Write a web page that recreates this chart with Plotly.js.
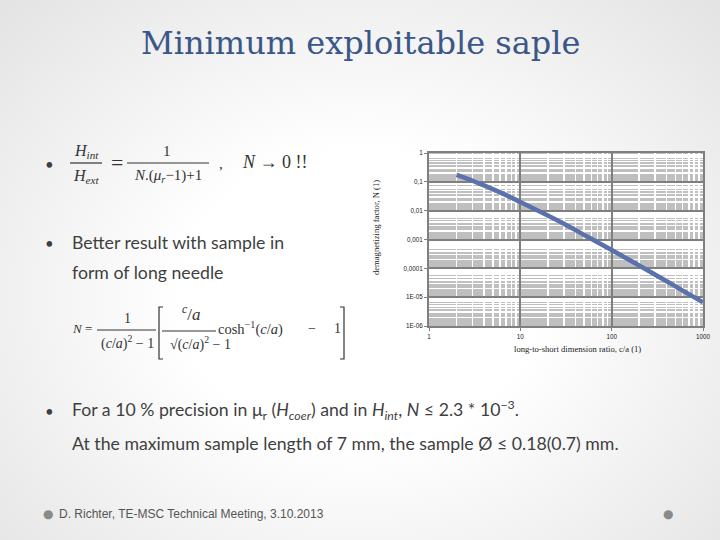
<!DOCTYPE html>
<html><head><meta charset="utf-8">
<script src="https://cdn.plot.ly/plotly-3.0.1.min.js"></script>
<style>
html,body{margin:0;padding:0;width:720px;height:540px;overflow:hidden;
background:radial-gradient(ellipse at 50% 55%, #ffffff 35%, #e3e3e3 100%);}
#chart{width:720px;height:540px;}
</style>
</head><body><div id="chart"></div>
<script>
// ---- data ----
const ratio = [2, 3, 4, 5, 7, 10, 20, 30, 50, 70, 100, 200, 300, 500, 700, 1000];
const demagFactor = [0.174, 0.109, 0.075, 0.056, 0.0345, 0.0200, 0.0068, 0.0035, 0.00144, 0.0008, 0.00043, 0.000125, 0.00006, 0.0000236, 0.0000127, 0.0000066];
const yTickVals = [1, 0.1, 0.01, 0.001, 0.0001, 0.00001, 0.000001];
const yTickText = ["1", "0,1", "0,01", "0,001", "0,0001", "1E-05", "1E-06"];
const xTickVals = [1, 10, 100, 1000];
const xTickText = ["1", "10", "100", "1000"];
const slideTitle = "Minimum exploitable saple";
const yTitle = "demagnetizing factor, N (1)";
const xTitle = "long-to-short dimension ratio, c/a (1)";
const footer = "D. Richter, TE-MSC Technical Meeting, 3.10.2013";

// ---- helpers (pixel -> paper) ----
const W = 720, H = 540;
const px = x => x / W;
const py = y => 1 - y / H;

const SANS = "Lato, 'DejaVu Sans', sans-serif";
const SERIF = "'Liberation Serif', 'DejaVu Serif', serif";
const TXT = "#3f3f3f";

function ann(text, x, y, opts) {
  return Object.assign({
    text: text, x: px(x), y: py(y), xref: 'paper', yref: 'paper',
    showarrow: false, xanchor: 'left', yanchor: 'middle',
    font: {family: SANS, size: 17.7, color: TXT}
  }, opts || {});
}
function hline(x0, x1, y, w) {
  return {type: 'line', xref: 'paper', yref: 'paper', x0: px(x0), x1: px(x1), y0: py(y), y1: py(y),
          line: {color: '#333', width: w || 1.2}};
}
function bracket(x, y0, y1, dir) {
  const t = 4 * dir;
  return {type: 'path', xref: 'paper', yref: 'paper',
    path: `M ${px(x + t)} ${py(y0)} L ${px(x)} ${py(y0)} L ${px(x)} ${py(y1)} L ${px(x + t)} ${py(y1)}`,
    line: {color: '#333', width: 1.2}};
}

const trace = {
  x: ratio, y: demagFactor, type: 'scatter', mode: 'lines',
  line: {color: '#5a71ab', width: 4.5, shape: 'spline'},
  hoverinfo: 'skip'
};

const tickFont = {family: "'Liberation Sans', Arial, sans-serif", size: 6.3, color: '#1a1a1a'};
const mathI = {family: SERIF, size: 16, color: '#333'};
const m14 = {family: SERIF, size: 14, color: '#333'};
const dotFont = {family: "'DejaVu Sans', sans-serif", size: 12, color: '#8a8a8a'};

const annotations = [
  ann(slideTitle, 360, 43, {xanchor: 'center', font: {family: "'DejaVu Serif', serif", size: 32, color: '#3a5787'}}),
  // bullet 1
  ann('•', 43, 164, {font: {family: SANS, size: 15, color: TXT}}),
  ann('<i>H<sub>int</sub></i>', 86, 151, {xanchor: 'center', font: mathI}),
  ann('<i>H<sub>ext</sub></i>', 86, 176, {xanchor: 'center', font: mathI}),
  ann('=', 117, 163, {xanchor: 'center', font: {family: SERIF, size: 22, color: '#333'}}),
  ann('1', 167, 151, {xanchor: 'center', font: {family: SERIF, size: 15, color: '#333'}}),
  ann('<i>N</i>.(<i>μ<sub>r</sub></i>−1)+1', 168, 176, {xanchor: 'center', font: {family: SERIF, size: 15, color: '#333'}}),
  ann(',', 221, 164, {xanchor: 'center', font: {family: SERIF, size: 15, color: '#333'}}),
  ann('<i>N</i> → 0 !!', 240, 162, {font: {family: SERIF, size: 18, color: '#333'}}),
  // bullet 2
  ann('•', 43, 243, {font: {family: SANS, size: 15, color: TXT}}),
  ann('Better result with sample in', 70, 242),
  ann('form of long needle', 70, 272),
  // formula for N
  ann('<i>N</i> =', 70, 328, {font: {family: SERIF, size: 13, color: '#333'}}),
  ann('1', 127, 318, {xanchor: 'center', font: m14}),
  ann('(<i>c</i>/<i>a</i>)<sup>2</sup> − 1', 127, 342, {xanchor: 'center', font: m14}),
  ann('<sup><i>c</i></sup>/<i>a</i>', 191, 313, {xanchor: 'center', font: {family: SERIF, size: 17, color: '#333'}}),
  ann('√(<i>c</i>/<i>a</i>)<sup>2</sup> − 1', 200, 343, {xanchor: 'center', font: m14}),
  ann('cosh<sup>−1</sup>(<i>c</i>/<i>a</i>)', 216, 328, {font: {family: SERIF, size: 14.5, color: '#333'}}),
  ann('−', 312, 328, {xanchor: 'center', font: m14}),
  ann('1', 337, 328, {xanchor: 'center', font: m14}),
  // bullet 3
  ann('•', 43, 411, {font: {family: SANS, size: 15, color: TXT}}),
  ann('For a 10 % precision in μ<sub>r</sub> (<i>H<sub>coer</sub></i>) and in <i>H<sub>int</sub></i>, <i>N</i> ≤ 2.3 * 10<sup>−3</sup>.', 70, 410),
  ann('At the maximum sample length of 7 mm, the sample Ø ≤ 0.18(0.7) mm.', 70, 443),
  // footer
  ann('●', 48, 514, {xanchor: 'center', font: dotFont}),
  ann(footer, 57, 514, {font: {family: "'Liberation Sans', Arial, sans-serif", size: 12, color: '#555'}}),
  ann('●', 668, 514, {xanchor: 'center', font: dotFont}),
  // axis titles
  ann(yTitle, 376, 228, {xanchor: 'center', textangle: -90, font: {family: SERIF, size: 8.6, color: '#1a1a1a'}}),
  ann(xTitle, 577, 349, {xanchor: 'center', font: {family: SERIF, size: 8.6, color: '#1a1a1a'}})
];

const shapes = [
  hline(70, 102, 163),
  hline(127, 209, 163),
  hline(97, 156, 330),
  hline(162, 216, 331),
  bracket(159, 307, 359, 1),
  bracket(344, 307, 359, -1)
];

const layout = {
  width: W, height: H,
  margin: {l: 0, r: 0, t: 0, b: 0},
  paper_bgcolor: 'rgba(0,0,0,0)',
  plot_bgcolor: '#bfbfbf',
  showlegend: false,
  xaxis: {
    type: 'log', range: [0, 3], domain: [px(429), px(703)],
    tickmode: 'array', tickvals: xTickVals, ticktext: xTickText,
    tickfont: tickFont, ticks: 'outside', ticklen: 3, tickcolor: '#7f7f7f',
    showgrid: true, gridcolor: '#7f7f7f', gridwidth: 2,
    minor: {dtick: 'D1', showgrid: true, gridcolor: '#ffffff', gridwidth: 1.5, ticks: ''},
    showline: true, linecolor: '#7f7f7f', linewidth: 2, mirror: true,
    zeroline: false, fixedrange: true
  },
  yaxis: {
    type: 'log', range: [-6, 0], domain: [py(326), py(153)],
    tickmode: 'array', tickvals: yTickVals, ticktext: yTickText,
    tickfont: tickFont, ticks: 'outside', ticklen: 3, tickcolor: '#7f7f7f',
    showgrid: true, gridcolor: '#7f7f7f', gridwidth: 2,
    minor: {dtick: 'D1', showgrid: true, gridcolor: '#ffffff', gridwidth: 1.5, ticks: ''},
    showline: true, linecolor: '#7f7f7f', linewidth: 2, mirror: true,
    zeroline: false, fixedrange: true
  },
  annotations: annotations,
  shapes: shapes
};

Plotly.newPlot('chart', [trace], layout, {staticPlot: true, displayModeBar: false});
</script>
</body></html>
